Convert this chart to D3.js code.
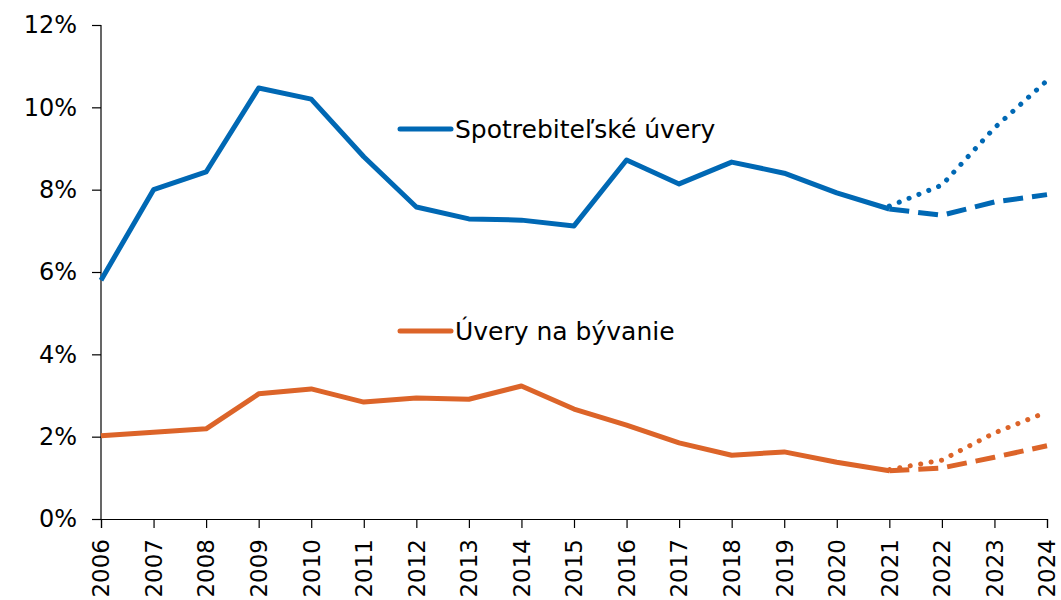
<!DOCTYPE html>
<html>
<head>
<meta charset="utf-8">
<script src="https://cdn.jsdelivr.net/npm/d3@7"></script>
<style>
  body { margin: 0; background: #fff; }
  text { font-family: "DejaVu Sans", Verdana, sans-serif; fill: #000; }
</style>
</head>
<body>
<div id="chart"></div>
<script>
// roky na osi x
const years = [2006, 2007, 2008, 2009, 2010, 2011, 2012, 2013, 2014, 2015,
               2016, 2017, 2018, 2019, 2020, 2021, 2022, 2023, 2024];
const yTicks = [0, 2, 4, 6, 8, 10, 12];

// skutočnosť 2006-2021
const consumer = [5.8, 8.0, 8.43, 10.47, 10.2, 8.8, 7.58, 7.29, 7.26, 7.12,
                  8.72, 8.14, 8.67, 8.4, 7.92, 7.53];
const housing = [2.02, 2.11, 2.19, 3.04, 3.16, 2.84, 2.94, 2.91, 3.23, 2.67,
                 2.28, 1.85, 1.55, 1.63, 1.38, 1.17];

// scenáre 2021-2024
const forecastYears = [2021, 2022, 2023, 2024];
const consumerDash = [7.53, 7.38, 7.7, 7.88];
const consumerDot = [7.6, 8.11, 9.5, 10.65];
const housingDash = [1.17, 1.24, 1.5, 1.78];
const housingDot = [1.2, 1.43, 2.09, 2.6];

const seriesNames = ["Spotrebiteľské úvery", "Úvery na bývanie"];
const blue = "#0068b4";
const orange = "#dc6429";

const width = 1061, height = 600;
const margin = { top: 25, right: 14, bottom: 81, left: 101 };

const svg = d3.select("#chart").append("svg")
  .attr("width", width)
  .attr("height", height);

const x = d3.scaleLinear()
  .domain([2006, 2024])
  .range([margin.left, width - margin.right]);

const y = d3.scaleLinear()
  .domain([0, 12])
  .range([height - margin.bottom, margin.top]);

// os y
const yAxis = svg.append("g")
  .attr("transform", "translate(" + margin.left + ",0)")
  .call(d3.axisLeft(y).tickValues(yTicks).tickSize(9).tickPadding(15)
    .tickFormat(d => d + "%"));
yAxis.selectAll("text").style("font-size", "24px");

// os x
const xAxis = svg.append("g")
  .attr("transform", "translate(0," + y(0) + ")")
  .call(d3.axisBottom(x).tickValues(years).tickSize(9).tickFormat(d3.format("d")));
xAxis.selectAll("text")
  .style("font-size", "23px")
  .attr("transform", "rotate(-90)")
  .attr("text-anchor", "end")
  .attr("x", -20)
  .attr("y", 0)
  .attr("dy", "0.34em");

svg.selectAll(".domain, .tick line").attr("stroke", "#000").attr("stroke-width", 1.2);
yAxis.select(".domain").attr("d", "M0," + y(12) + "V" + y(0));

const line = d3.line()
  .x(d => x(d[0]))
  .y(d => y(d[1]));

function drawLine(xs, vals, color, dash) {
  svg.append("path")
    .datum(xs.map((yr, i) => [yr, vals[i]]))
    .attr("fill", "none")
    .attr("stroke", color)
    .attr("stroke-width", 5)
    .attr("stroke-linejoin", "round")
    .attr("stroke-linecap", dash === "dot" ? "round" : "butt")
    .attr("stroke-dasharray", dash === "dot" ? "0.1 10.5" : dash === "dash" ? "20 9" : null)
    .attr("d", line);
}

const histYears = years.slice(0, consumer.length);
drawLine(histYears, consumer, blue, null);
drawLine(histYears, housing, orange, null);
drawLine(forecastYears, consumerDash, blue, "dash");
drawLine(forecastYears, consumerDot, blue, "dot");
drawLine(forecastYears, housingDash, orange, "dash");
drawLine(forecastYears, housingDot, orange, "dot");

// legenda
const legend = [
  { name: seriesNames[0], color: blue, y: 129 },
  { name: seriesNames[1], color: orange, y: 331 }
];
legend.forEach(function (d) {
  svg.append("line")
    .attr("x1", 400).attr("x2", 451)
    .attr("y1", d.y).attr("y2", d.y)
    .attr("stroke", d.color)
    .attr("stroke-width", 5)
    .attr("stroke-linecap", "round");
  svg.append("text")
    .attr("x", 455)
    .attr("y", d.y)
    .attr("dy", "0.36em")
    .style("font-size", "25px")
    .text(d.name);
});
</script>
</body>
</html>
